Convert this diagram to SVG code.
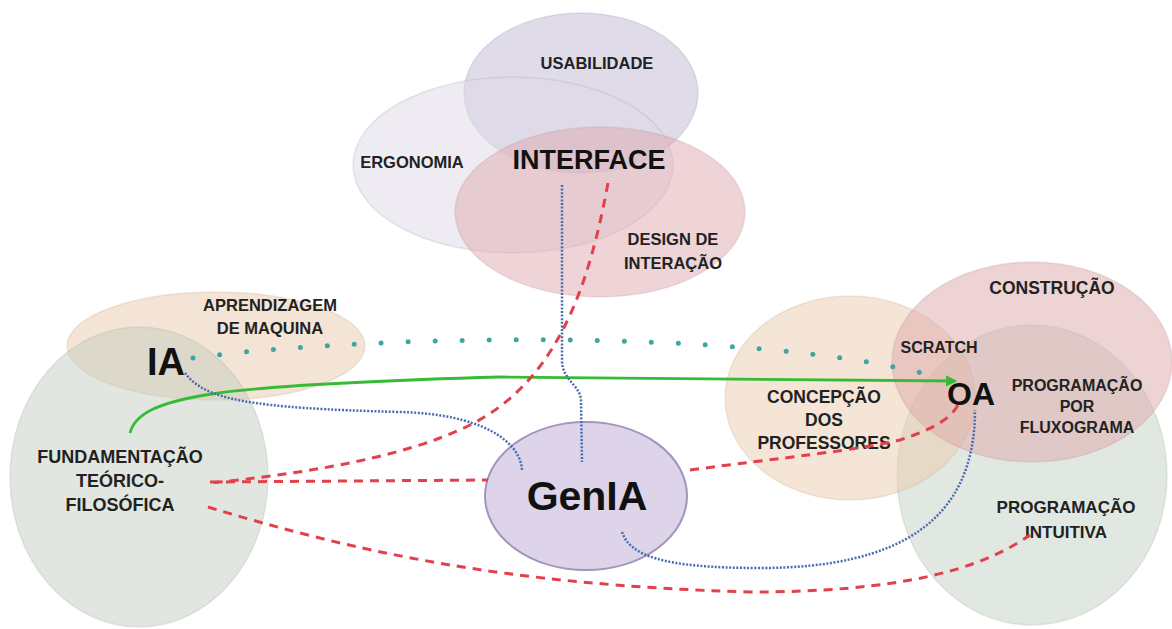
<svg xmlns="http://www.w3.org/2000/svg" width="1172" height="629" viewBox="0 0 1172 629">
<style>
.bg{fill:#ffffff}
.reg{fill-opacity:0.5;stroke-opacity:0.25;stroke-width:1.5}
.lab{font-family:"Liberation Sans",Arial,sans-serif;font-weight:bold;font-size:16.5px;fill:#222;text-anchor:middle}
.big{font-family:"Liberation Sans",Arial,sans-serif;font-weight:bold;fill:#111;text-anchor:middle}
.red{fill:none;stroke:#e1404c;stroke-width:3;stroke-dasharray:9 7}
.blue{fill:none;stroke:#4a6cae;stroke-width:2.5;stroke-dasharray:2 1.6}
.teal{fill:none;stroke:#3fa59f;stroke-width:5;stroke-linecap:round;stroke-dasharray:0 27}
.green{fill:none;stroke:#36bb36;stroke-width:2.8}
</style>
<defs>
<marker id="ga" viewBox="0 0 10 10" refX="8" refY="5" markerWidth="4" markerHeight="4" orient="auto">
<path d="M0,0 L10,5 L0,10 z" fill="#36bb36"/>
</marker>
</defs>
<rect class="bg" x="0" y="0" width="1172" height="629"/>

<g id="usabilidade">
<ellipse class="reg" cx="581" cy="93" rx="117" ry="80" fill="#c1b7d3" stroke="#9a8fb0"/>
<text class="lab" x="597" y="69">USABILIDADE</text>
</g>
<g id="ergonomia">
<ellipse class="reg" cx="513" cy="165" rx="160" ry="88" fill="#ddd9e5" stroke="#aaa2b5"/>
<text class="lab" x="412" y="168">ERGONOMIA</text>
</g>
<g id="design">
<ellipse class="reg" cx="600" cy="212" rx="145" ry="85" fill="#dda9af" stroke="#c0959a"/>
<text class="lab" x="673" y="245">DESIGN DE</text>
<text class="lab" x="673" y="269">INTERAÇÃO</text>
</g>
<g id="aprendizagem">
<ellipse class="reg" cx="216" cy="346" rx="149" ry="54" fill="#e9c9ab" stroke="#c8a98e"/>
<text class="lab" x="270" y="311">APRENDIZAGEM</text>
<text class="lab" x="270" y="334">DE MAQUINA</text>
</g>
<g id="fundamentacao">
<ellipse class="reg" cx="139" cy="477" rx="129" ry="150" fill="#c3cdc1" stroke="#a4aba2"/>
<text class="lab" x="120" y="463" style="font-size:18px">FUNDAMENTAÇÃO</text>
<text class="lab" x="120" y="487" style="font-size:18px">TEÓRICO-</text>
<text class="lab" x="120" y="511" style="font-size:18px">FILOSÓFICA</text>
</g>
<g id="intuitiva">
<ellipse class="reg" cx="1032" cy="475" rx="135" ry="150" fill="#c3d1c3" stroke="#a5b0a5"/>
<text class="lab" x="1066" y="513" style="font-size:17px">PROGRAMAÇÃO</text>
<text class="lab" x="1066" y="538" style="font-size:17px">INTUITIVA</text>
</g>
<g id="concepcao">
<ellipse class="reg" cx="850" cy="398" rx="125" ry="102" fill="#ebcbad" stroke="#c9ab91"/>
<text class="lab" x="824" y="403" style="font-size:17.5px">CONCEPÇÃO</text>
<text class="lab" x="824" y="426" style="font-size:17.5px">DOS</text>
<text class="lab" x="824" y="449" style="font-size:17.5px">PROFESSORES</text>
</g>
<g id="construcao">
<ellipse class="reg" cx="1032" cy="362" rx="140" ry="100" fill="#dda7a9" stroke="#c09496"/>
<text class="lab" x="1052" y="294" style="font-size:17.5px">CONSTRUÇÃO</text>
</g>
<g id="genia">
<ellipse cx="586" cy="496" rx="101" ry="74" fill="#ddd4e9" stroke="#a095bb" stroke-width="2"/>
<text class="big" x="587" y="510" style="font-size:41px">GenIA</text>
</g>

<g id="connectors">
<path class="teal" d="M193,358 C350,336 740,326 930,375"/>
<path class="green" d="M130,433 C140,395 220,385 500,377 L955,381" marker-end="url(#ga)"/>
<path class="blue" d="M185,373 C205,400 250,408 400,412 C480,414 520,440 522,470"/>
<path class="blue" d="M562,185 L562,360 C562,380 580,385 581,400 L582,462"/>
<path class="blue" d="M622,532 C630,555 660,568 760,568 C900,568 975,520 975,410"/>
<path class="red" d="M608,183 C590,280 560,380 470,425 C400,460 290,475 210,483"/>
<path class="red" d="M210,482 L488,480"/>
<path class="red" d="M690,470 C780,458 860,450 900,440 C930,430 950,420 958,405"/>
<path class="red" d="M208,507 C350,550 500,585 750,592 C900,592 980,570 1030,535"/>
</g>

<g id="interface">
<text class="big" x="589" y="169" style="font-size:27px">INTERFACE</text>
</g>
<g id="ia">
<text class="big" x="166" y="375" style="font-size:38px">IA</text>
</g>
<g id="oa">
<text class="big" x="971" y="405" style="font-size:32px">OA</text>
</g>
<g id="scratch">
<text class="lab" x="939" y="353" style="font-size:16px">SCRATCH</text>
</g>
<g id="fluxograma">
<text class="lab" x="1077" y="391" style="font-size:16px">PROGRAMAÇÃO</text>
<text class="lab" x="1077" y="412" style="font-size:16px">POR</text>
<text class="lab" x="1077" y="433" style="font-size:16px">FLUXOGRAMA</text>
</g>
</svg>
